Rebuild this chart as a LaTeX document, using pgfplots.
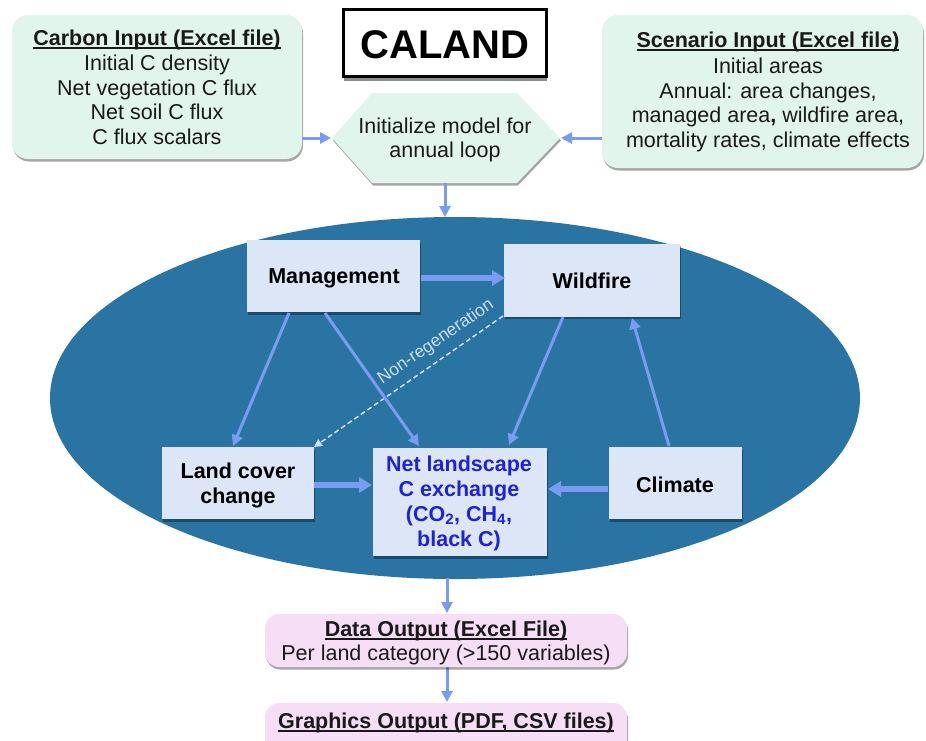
\documentclass[border=0pt]{standalone}
\usepackage{pgfplots}
\pgfplotsset{compat=1.18}
\usepackage{fontspec}
\setmainfont{Liberation Sans}
\usetikzlibrary{shadows,arrows.meta}
\definecolor{mint}{RGB}{226,245,236}
\definecolor{pinkbox}{RGB}{246,222,246}
\definecolor{innerbox}{RGB}{220,230,246}
\definecolor{ellblue}{RGB}{42,116,163}
\definecolor{arrowblue}{RGB}{122,156,240}
\definecolor{netblue}{RGB}{30,35,215}
\definecolor{dashcol}{RGB}{205,222,246}
\definecolor{txt}{RGB}{25,25,25}
\newcommand\ul[1]{\leavevmode\setbox0\hbox{#1}\copy0\llap{\rule[-3.6pt]{\wd0}{1.8pt}}}
\begin{document}
\begin{tikzpicture}
\begin{axis}[width=926pt,height=740pt,scale only axis,hide axis,
  xmin=0,xmax=926,ymin=0,ymax=740,y dir=reverse,clip=true]
\coordinate (BL) at (axis cs:0,740);
\coordinate (TR) at (axis cs:926,0);
\tikzset{
  sh/.style={drop shadow={shadow xshift=1pt,shadow yshift=-2.5pt,opacity=0.35,fill=black}},
  arr/.style={arrowblue,line width=3pt,-{Triangle[length=11pt,width=11pt]}},
  tarr/.style={arrowblue,line width=5.5pt,-{Triangle[length=13pt,width=15pt]}},
  reg/.style={font=\fontsize{21.5}{24.5}\selectfont,text=txt,align=center,inner sep=0pt},
  bld/.style={font=\fontsize{21.5}{25}\selectfont\bfseries,text=black,align=center,inner sep=0pt},
  ib/.style={fill=innerbox,draw=none,sh,inner sep=0pt},
}
% top boxes
\node[sh,fill=mint,draw=none,rounded corners=16pt,minimum width=290pt,minimum height=144pt] at (axis cs:157,87) {};
\node[reg] at (axis cs:157,40) {\ul{\textbf{Carbon Input (Excel file)}}};
\node[reg] at (axis cs:157,100) {Initial C density\\Net vegetation C flux\\Net soil C flux\\C flux scalars};
\node[sh,fill=mint,draw=none,rounded corners=16pt,minimum width=321pt,minimum height=153pt] at (axis cs:762.5,91.5) {};
\node[reg] at (axis cs:768,42) {\ul{\textbf{Scenario Input (Excel file)}}};
\node[reg] at (axis cs:768,105) {Initial areas\\Annual: area changes,\\managed area\textbf{,} wildfire area,\\mortality rates, climate effects};
% CALAND
\node[drop shadow={shadow xshift=0pt,shadow yshift=-4pt,opacity=0.45,fill=black},fill=white,draw=black,line width=3.5pt,minimum width=203pt,minimum height=67pt,inner sep=0pt] at (axis cs:445,43) {};
\node[font=\fontsize{40}{44}\selectfont\bfseries,inner sep=0pt] at (axis cs:445,45) {CALAND};
% hexagon
\draw[sh,fill=mint,draw=none] (axis cs:332,138) -- (axis cs:372,93) -- (axis cs:517,93) -- (axis cs:560,138) -- (axis cs:517,183) -- (axis cs:372,183) -- cycle;
\node[reg] at (axis cs:445,140) {Initialize model for\\annual loop};
% ellipse
\fill[ellblue] (axis cs:455,398) ellipse [x radius=405, y radius=181];
% inner boxes
\node[ib,minimum width=173pt,minimum height=72pt] at (axis cs:333,276) {};
\node[bld] at (axis cs:334,278) {Management};
\node[ib,minimum width=176pt,minimum height=73pt] at (axis cs:592,280) {};
\node[bld] at (axis cs:592,281) {Wildfire};
\node[ib,minimum width=152pt,minimum height=72pt] at (axis cs:238,483) {};
\node[bld] at (axis cs:238,485) {Land cover\\change};
\node[ib,minimum width=133pt,minimum height=72pt] at (axis cs:675,483) {};
\node[bld] at (axis cs:675,485) {Climate};
\node[ib,minimum width=174pt,minimum height=108pt] at (axis cs:460,502) {};
\node[bld,text=netblue] at (axis cs:459,503) {Net landscape\\C exchange\\(CO\textsubscript{2}, CH\textsubscript{4},\\black C)};
% non-regeneration
\node[font=\fontsize{17.5}{20}\selectfont,text=dashcol,rotate=34.5,inner sep=0pt] at (axis cs:436,342) {Non-regeneration};
\addplot[dashcol,line width=1.5pt,dash pattern=on 5pt off 3pt,-{Triangle[length=8pt,width=8pt]}] coordinates {(503,316) (314,447)};
% arrows
\addplot[arr] coordinates {(302,138) (331,138)};
\addplot[arr] coordinates {(602,138) (561,138)};
\addplot[arr] coordinates {(445,183) (445,217)};
\addplot[tarr] coordinates {(421,278) (505,278)};
\addplot[arr] coordinates {(289,313) (233,446)};
\addplot[arr] coordinates {(325,313) (419,446)};
\addplot[arr] coordinates {(563,317) (509,445)};
\addplot[arr] coordinates {(669,446) (632,318)};
\addplot[tarr] coordinates {(314,485) (372,485)};
\addplot[tarr] coordinates {(608,489) (548,489)};
\addplot[arr] coordinates {(447,578) (447,613)};
\addplot[arr] coordinates {(447,667) (447,702)};
% bottom boxes
\node[sh,fill=pinkbox,draw=none,rounded corners=14pt,minimum width=362pt,minimum height=53pt] at (axis cs:446,640.5) {};
\node[reg] at (axis cs:446,631) {\ul{\textbf{Data Output (Excel File)}}};
\node[reg] at (axis cs:446,655) {Per land category (>150 variables)};
\node[sh,fill=pinkbox,draw=none,rounded corners=14pt,minimum width=362pt,minimum height=60pt] at (axis cs:446,733) {};
\node[reg] at (axis cs:446,723) {\ul{\textbf{Graphics Output (PDF, CSV files)}}};
\end{axis}
\pgfresetboundingbox
\path[use as bounding box] (BL) rectangle (TR);
\end{tikzpicture}
\end{document}
